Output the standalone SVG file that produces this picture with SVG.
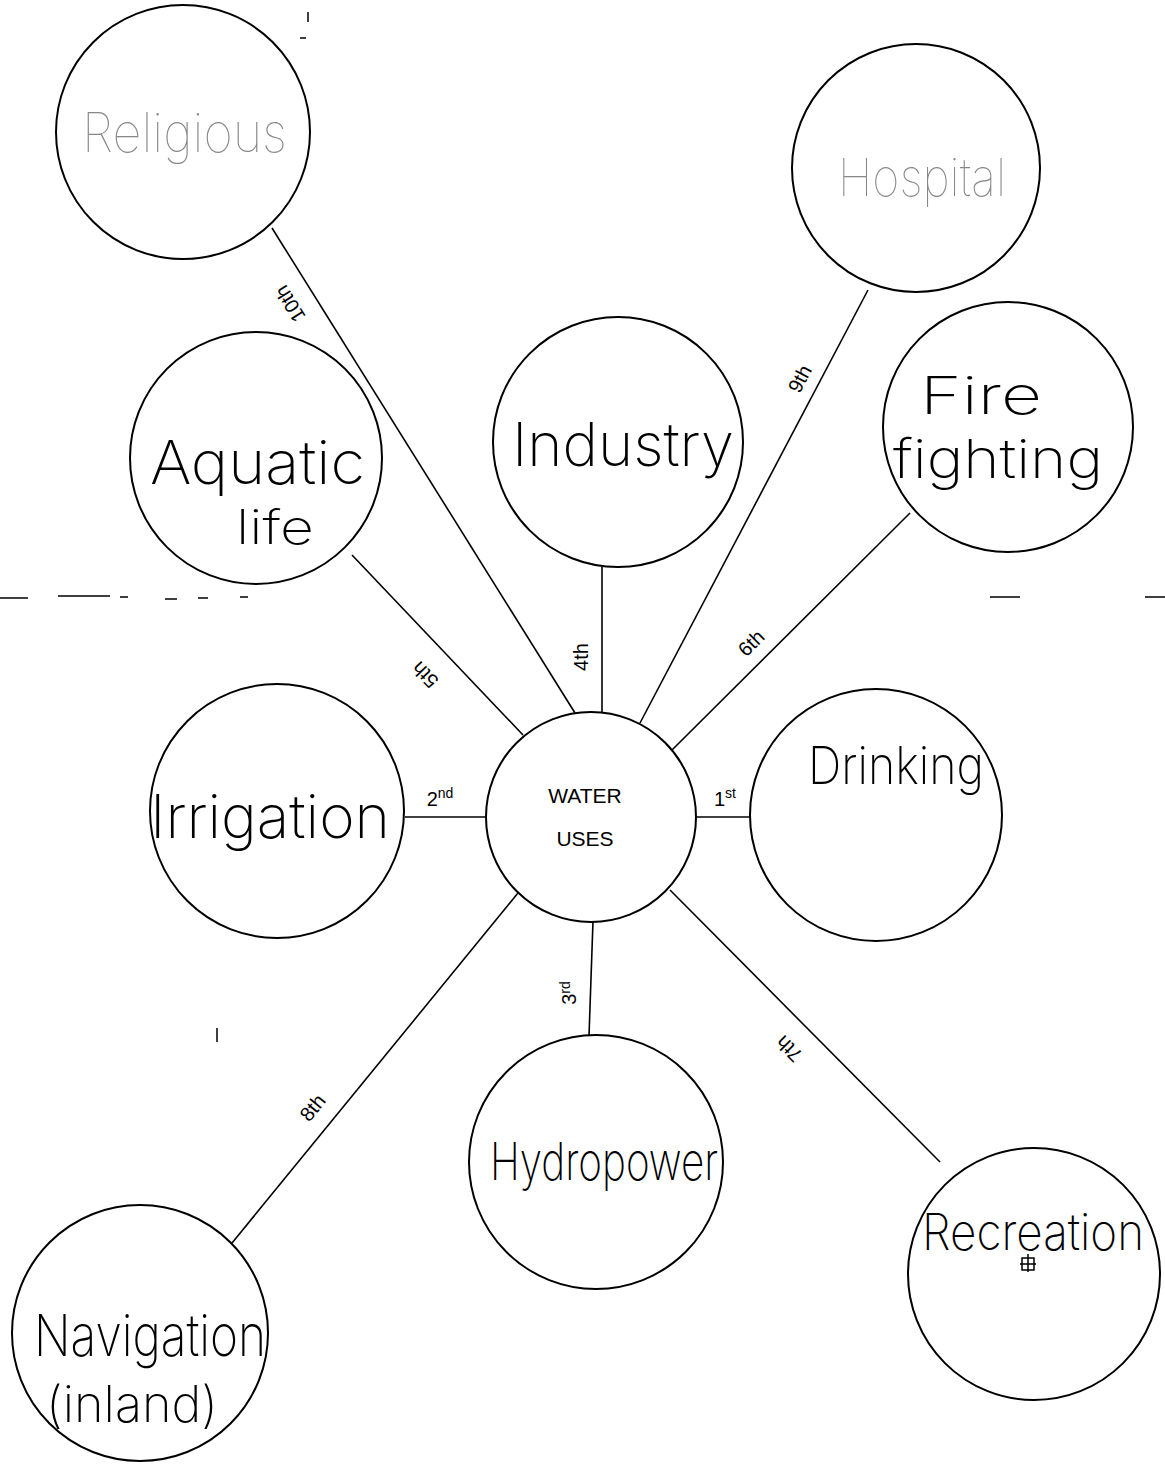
<svg xmlns="http://www.w3.org/2000/svg" width="1165" height="1469" viewBox="0 0 1165 1469">
<style>
.node{fill:#fff;stroke:#000;stroke-width:2}
.conn line{stroke:#000;stroke-width:1.6}
.hand{font-family:Inter,"Open Sans","DejaVu Sans Condensed",sans-serif;font-weight:200;fill:#000}
.faint{font-family:Inter,"Open Sans","DejaVu Sans Condensed",sans-serif;font-weight:100;fill:#888}
.lbl{font-family:"Liberation Sans",Arial,sans-serif;font-size:20px;fill:#000}
.ctr{font-family:"Liberation Sans",Arial,sans-serif;font-size:21px;fill:#000}
.art{stroke:#000;stroke-width:1.5;fill:none}
</style>
<rect width="1165" height="1469" fill="#fff"/>

<g id="artifacts">
<path class="art" d="M0 598h28M58 596h52M120 597h8M165 599h12M198 598h10M240 597h8M990 597h30M1145 597h20"/>
<path class="art" stroke-dasharray="6 8" stroke-width="1" d="M925 340L1100 515"/>
<path class="art" d="M217 1028v14"/>
<path class="art" d="M308 12v10M300 38h6"/>
</g>

<g id="connectors" class="conn">
<line x1="272" y1="228" x2="575" y2="713"/>
<line x1="352" y1="555" x2="523" y2="735"/>
<line x1="602" y1="567" x2="602" y2="714"/>
<line x1="868" y1="290" x2="640" y2="723"/>
<line x1="910" y1="513" x2="672" y2="750"/>
<line x1="697" y1="817" x2="750" y2="817"/>
<line x1="405" y1="817" x2="486" y2="817"/>
<line x1="593" y1="921" x2="589" y2="1036"/>
<line x1="670" y1="890" x2="940" y2="1162"/>
<line x1="518" y1="893" x2="232" y2="1243"/>
</g>

<g id="edge-labels">
<text class="lbl" transform="translate(296,300) rotate(238)" text-anchor="middle">10th</text>
<text class="lbl" transform="translate(430,670) rotate(226)" text-anchor="middle">5th</text>
<text class="lbl" transform="translate(588,657) rotate(-90)" text-anchor="middle">4th</text>
<text class="lbl" transform="translate(806,382) rotate(-62)" text-anchor="middle">9th</text>
<text class="lbl" transform="translate(756,648) rotate(-45)" text-anchor="middle">6th</text>
<text class="lbl" x="725" y="806" text-anchor="middle">1<tspan font-size="14" dy="-8">st</tspan></text>
<text class="lbl" x="440" y="806" text-anchor="middle">2<tspan font-size="14" dy="-8">nd</tspan></text>
<text class="lbl" transform="translate(576,993) rotate(-90)" text-anchor="middle">3<tspan font-size="14" dy="-6">rd</tspan></text>
<text class="lbl" transform="translate(794,1044) rotate(225)" text-anchor="middle">7th</text>
<text class="lbl" transform="translate(318,1112) rotate(-51)" text-anchor="middle">8th</text>
</g>

<g id="node-center">
<circle class="node" cx="591" cy="817" r="105"/>
<text class="ctr" x="585" y="803" text-anchor="middle">WATER</text>
<text class="ctr" x="585" y="846" text-anchor="middle">USES</text>
</g>

<g id="node-religious">
<circle class="node" cx="183" cy="132" r="127"/>
<text class="faint" x="82" y="152" font-size="54" textLength="205" lengthAdjust="spacingAndGlyphs">Religious</text>
</g>

<g id="node-hospital">
<circle class="node" cx="916" cy="168" r="124"/>
<text class="faint" x="838" y="196" font-size="52" textLength="168" lengthAdjust="spacingAndGlyphs">Hospital</text>
</g>

<g id="node-aquatic">
<circle class="node" cx="256" cy="458" r="126"/>
<text class="hand" x="150" y="484" font-size="60" textLength="215" lengthAdjust="spacingAndGlyphs">Aquatic</text>
<text class="hand" x="236" y="544" font-size="48" textLength="78" lengthAdjust="spacingAndGlyphs">life</text>
</g>

<g id="node-industry">
<circle class="node" cx="618" cy="442" r="125"/>
<text class="hand" x="512" y="466" font-size="60" textLength="222" lengthAdjust="spacingAndGlyphs">Industry</text>
</g>

<g id="node-firefighting">
<circle class="node" cx="1008" cy="427" r="125"/>
<text class="hand" x="920" y="414" font-size="52" textLength="122" lengthAdjust="spacingAndGlyphs">Fire</text>
<text class="hand" x="893" y="478" font-size="54" textLength="210" lengthAdjust="spacingAndGlyphs">fighting</text>
</g>

<g id="node-irrigation">
<circle class="node" cx="277" cy="811" r="127"/>
<text class="hand" x="150" y="838" font-size="60" textLength="240" lengthAdjust="spacingAndGlyphs">Irrigation</text>
</g>

<g id="node-drinking">
<circle class="node" cx="876" cy="815" r="126"/>
<text class="hand" x="808" y="784" font-size="52" textLength="176" lengthAdjust="spacingAndGlyphs">Drinking</text>
</g>

<g id="node-hydropower">
<circle class="node" cx="596" cy="1162" r="127"/>
<text class="hand" x="490" y="1180" font-size="52" textLength="228" lengthAdjust="spacingAndGlyphs">Hydropower</text>
</g>

<g id="node-recreation">
<circle class="node" cx="1034" cy="1274" r="126"/>
<text class="hand" x="922" y="1250" font-size="50" textLength="222" lengthAdjust="spacingAndGlyphs">Recreation</text>
<path class="art" d="M1022 1258h12v12h-12zM1020 1264h16M1028 1254v18"/>
</g>

<g id="node-navigation">
<circle class="node" cx="140" cy="1333" r="128"/>
<text class="hand" x="34" y="1356" font-size="58" textLength="232" lengthAdjust="spacingAndGlyphs">Navigation</text>
<text class="hand" x="46" y="1422" font-size="50" textLength="172" lengthAdjust="spacingAndGlyphs">(inland)</text>
</g>
</svg>
